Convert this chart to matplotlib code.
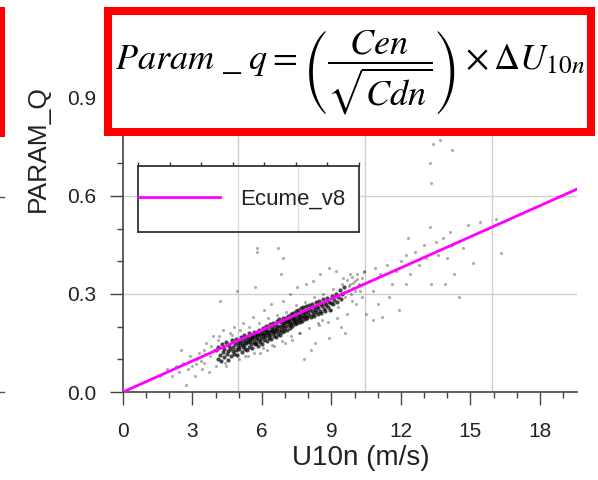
import numpy as np
import matplotlib
matplotlib.use('Agg')
from matplotlib import pyplot as plt
from matplotlib.patches import Rectangle
from matplotlib.lines import Line2D

plt.rcParams['font.family'] = ['Liberation Sans', 'DejaVu Sans']
plt.rcParams['mathtext.fontset'] = 'stix'

# dense cloud of (U10n, PARAM_Q) samples
core_pts = [
    (4.03, 0.128), (4.08, 0.101), (4.12, 0.137), (4.17, 0.112), (4.21, 0.094), (4.26, 0.146),
    (4.31, 0.121), (4.34, 0.108), (4.38, 0.133), (4.43, 0.152), (4.47, 0.117), (4.52, 0.126),
    (4.55, 0.098), (4.58, 0.141), (4.62, 0.131), (4.66, 0.109), (4.69, 0.158), (4.73, 0.124),
    (4.76, 0.137), (4.79, 0.116), (4.83, 0.146), (4.86, 0.129), (4.89, 0.163), (4.92, 0.112),
    (4.95, 0.138), (4.98, 0.151),
    (5.02, 0.131), (5.04, 0.156), (5.07, 0.144), (5.09, 0.168), (5.12, 0.123), (5.14, 0.149),
    (5.16, 0.139), (5.19, 0.162), (5.21, 0.176), (5.23, 0.145), (5.26, 0.133), (5.28, 0.157),
    (5.31, 0.168), (5.33, 0.149), (5.35, 0.128), (5.38, 0.161), (5.41, 0.152), (5.43, 0.181),
    (5.45, 0.139), (5.48, 0.166), (5.50, 0.156), (5.52, 0.147), (5.55, 0.172), (5.57, 0.161),
    (5.59, 0.135), (5.62, 0.168), (5.64, 0.154), (5.66, 0.185), (5.69, 0.146), (5.71, 0.173),
    (5.73, 0.162), (5.76, 0.151), (5.78, 0.179), (5.80, 0.167), (5.82, 0.141), (5.85, 0.175),
    (5.87, 0.159), (5.89, 0.189), (5.92, 0.152), (5.94, 0.178), (5.96, 0.166), (5.98, 0.147),
    (6.01, 0.184), (6.03, 0.171), (6.05, 0.195), (6.07, 0.158), (6.10, 0.178), (6.12, 0.190),
    (6.14, 0.167), (6.16, 0.202), (6.18, 0.181), (6.20, 0.156), (6.23, 0.187), (6.25, 0.174),
    (6.27, 0.198), (6.29, 0.165), (6.31, 0.183), (6.34, 0.207), (6.36, 0.176), (6.38, 0.191),
    (6.40, 0.163), (6.42, 0.186), (6.45, 0.199), (6.47, 0.180), (6.49, 0.212), (6.51, 0.172),
    (6.53, 0.193), (6.56, 0.184), (6.58, 0.205), (6.60, 0.168), (6.62, 0.189), (6.64, 0.216),
    (6.67, 0.196), (6.69, 0.178), (6.71, 0.201), (6.73, 0.187), (6.75, 0.222), (6.78, 0.176),
    (6.80, 0.203), (6.82, 0.192), (6.84, 0.214), (6.86, 0.183), (6.89, 0.206), (6.91, 0.227),
    (6.93, 0.195), (6.95, 0.211), (6.97, 0.186), (6.99, 0.218),
    (7.02, 0.202), (7.04, 0.225), (7.06, 0.213), (7.08, 0.191), (7.11, 0.218), (7.13, 0.233),
    (7.15, 0.205), (7.17, 0.222), (7.19, 0.196), (7.21, 0.214), (7.24, 0.239), (7.26, 0.209),
    (7.28, 0.226), (7.30, 0.201), (7.32, 0.219), (7.35, 0.243), (7.37, 0.213), (7.39, 0.231),
    (7.41, 0.207), (7.43, 0.224), (7.46, 0.248), (7.48, 0.217), (7.50, 0.235), (7.52, 0.211),
    (7.54, 0.228), (7.57, 0.252), (7.59, 0.221), (7.61, 0.239), (7.63, 0.214), (7.65, 0.233),
    (7.68, 0.256), (7.70, 0.226), (7.72, 0.244), (7.74, 0.218), (7.76, 0.237), (7.79, 0.259),
    (7.81, 0.229), (7.83, 0.247), (7.85, 0.222), (7.87, 0.241), (7.90, 0.262), (7.92, 0.232),
    (7.94, 0.251), (7.96, 0.226), (7.98, 0.244),
    (8.02, 0.266), (8.05, 0.236), (8.08, 0.255), (8.11, 0.229), (8.14, 0.248), (8.17, 0.270),
    (8.20, 0.240), (8.23, 0.259), (8.26, 0.234), (8.29, 0.252), (8.32, 0.275), (8.35, 0.245),
    (8.38, 0.263), (8.41, 0.239), (8.44, 0.257), (8.47, 0.279), (8.50, 0.249), (8.53, 0.268),
    (8.56, 0.243), (8.60, 0.262), (8.63, 0.284), (8.66, 0.254), (8.70, 0.272), (8.73, 0.248),
    (8.77, 0.266), (8.80, 0.289), (8.84, 0.259), (8.88, 0.277), (8.92, 0.252), (8.96, 0.271),
    (9.02, 0.294), (9.07, 0.268), (9.12, 0.283), (9.18, 0.301), (9.23, 0.276), (9.29, 0.292),
    (9.35, 0.312), (9.41, 0.284), (9.47, 0.301), (9.54, 0.322),
]

# sparse points away from the cloud
sparse_pts = [
    (1.6, 0.05), (1.9, 0.07), (2.1, 0.05), (2.3, 0.08), (2.4, 0.06), (2.5, 0.13),
    (2.6, 0.09), (2.7, 0.02), (2.8, 0.07), (2.9, 0.11), (3.0, 0.08), (3.1, 0.05),
    (3.2, 0.10), (3.3, 0.12), (3.4, 0.07), (3.5, 0.13), (3.5, 0.09), (3.6, 0.15),
    (3.7, 0.06), (3.8, 0.14), (3.9, 0.17), (4.0, 0.08), (4.1, 0.16), (4.2, 0.28),
    (4.3, 0.19), (4.4, 0.09), (4.6, 0.18), (4.8, 0.20), (4.9, 0.31), (5.0, 0.10),
    (5.2, 0.21), (5.4, 0.11), (5.6, 0.23), (5.7, 0.32), (5.8, 0.44), (5.8, 0.43),
    (5.9, 0.12), (6.1, 0.25), (6.2, 0.13), (6.4, 0.27), (6.5, 0.14), (6.7, 0.44),
    (6.8, 0.36), (6.9, 0.41), (6.9, 0.28), (7.0, 0.15), (7.2, 0.30), (7.3, 0.16),
    (7.5, 0.32), (7.6, 0.18), (7.8, 0.10), (7.9, 0.33), (8.1, 0.13), (8.2, 0.34),
    (8.4, 0.21), (8.5, 0.36), (8.6, 0.22), (8.9, 0.165), (8.9, 0.38), (9.0, 0.25),
    (9.2, 0.37), (9.3, 0.26), (9.5, 0.35), (9.6, 0.18), (9.8, 0.36), (9.9, 0.28),
    (10.0, 0.31), (10.2, 0.33), (10.3, 0.29), (10.4, 0.37), (10.5, 0.24), (10.6, 0.34),
    (10.8, 0.31), (10.9, 0.38), (11.1, 0.36), (11.2, 0.23), (11.4, 0.39), (11.6, 0.33),
    (11.8, 0.37), (11.9, 0.25), (12.0, 0.40), (12.2, 0.42), (12.3, 0.47), (12.4, 0.36),
    (12.6, 0.43), (12.8, 0.39), (13.0, 0.45), (13.1, 0.41), (13.25, 0.505), (13.3, 0.33),
    (13.5, 0.46), (13.6, 0.42), (13.8, 0.47), (14.0, 0.41), (14.1, 0.49), (14.2, 0.45),
    (14.3, 0.36), (14.5, 0.29), (14.7, 0.44), (14.9, 0.51), (15.1, 0.395), (15.4, 0.52),
    (15.7, 0.50), (16.1, 0.53), (16.3, 0.425), (13.25, 0.70), (13.3, 0.64), (13.4, 0.76),
    (13.7, 0.77), (14.2, 0.74), (10.8, 0.22), (11.0, 0.27), (9.4, 0.20), (8.3, 0.15),
    (12.2, 0.33), (13.9, 0.33), (11.5, 0.29),
    (4.15, 0.17), (4.45, 0.08), (4.7, 0.175), (5.05, 0.19), (5.25, 0.11), (5.45, 0.20),
    (5.65, 0.12), (5.85, 0.21), (6.05, 0.135), (6.25, 0.225), (6.45, 0.145), (6.65, 0.235),
    (6.85, 0.155), (7.05, 0.245), (7.25, 0.17), (7.45, 0.265), (7.65, 0.18), (7.85, 0.275),
    (8.05, 0.195), (8.25, 0.29), (8.45, 0.205), (8.65, 0.30), (8.85, 0.215), (9.05, 0.315),
    (9.25, 0.225), (9.45, 0.33), (9.65, 0.24), (9.85, 0.30), (10.05, 0.27), (10.25, 0.31),
    (3.95, 0.13), (3.75, 0.11), (3.55, 0.115), (3.35, 0.095), (3.15, 0.085),
    (9.60, 0.292), (9.67, 0.343), (9.73, 0.310), (9.80, 0.331), (9.88, 0.352), (9.95, 0.318),
    (10.03, 0.339), (10.12, 0.361), (10.20, 0.327), (10.31, 0.349), (10.42, 0.366),
    (9.58, 0.305), (9.75, 0.325), (9.92, 0.335), (10.10, 0.345), (10.35, 0.33),
]

# Ecume_v8 parametrisation line
fit_x = [0.0, 19.6]
fit_y = [0.0, 0.621]

xticks = [0, 3, 6, 9, 12, 15, 18]
yticks = [0.0, 0.3, 0.6, 0.9]
vgrid = [4.97, 10.45, 15.93]

core_x, core_y = np.array(core_pts).T
sp_x, sp_y = np.array(sparse_pts).T

fig = plt.figure(figsize=(5.98, 4.8), dpi=100)
ax = fig.add_axes([123/598, 88/480, 454/598, 1.05*326.7/480])

for xv in vgrid:
    ax.axvline(xv, color='#cfcfcf', lw=1, zorder=0)
for yv in yticks[1:]:
    ax.axhline(yv, color='#cfcfcf', lw=1, zorder=0)

ax.scatter(sp_x, sp_y, s=5, color='k', alpha=0.32, lw=0, zorder=1)
ax.scatter(core_x, core_y, s=9, color='k', alpha=0.72, lw=0, zorder=2)
line, = ax.plot(fit_x, fit_y, color='#ff00ff', lw=2, zorder=3, label='Ecume_v8')

ax.set_xlim(0, 19.6)
ax.set_ylim(0, 1.05)
ax.set_xticks(xticks)
ax.set_xticks(np.arange(0, 20, 1), minor=True)
ax.set_yticks(yticks)
ax.set_yticklabels(['%.1f' % v for v in yticks])
ax.set_yticks(np.arange(0, 1.05, 0.1), minor=True)
ax.tick_params(which='major', direction='out', length=9.5, width=1, color='#444',
               labelsize=15, pad=12, labelcolor='#222')
ax.tick_params(axis='y', which='major', pad=10)
ax.tick_params(which='minor', direction='out', length=4.5, width=1, color='#444')
for side in ['top', 'right']:
    ax.spines[side].set_visible(False)
for side in ['left', 'bottom']:
    ax.spines[side].set_color('#444')
    ax.spines[side].set_linewidth(1.2)

ax.set_xlabel('U10n (m/s)', fontsize=20, color='#222')
ax.xaxis.set_label_coords(0.524, -0.155)
ax.set_ylabel('PARAM_Q', fontsize=19, color='#222')
ax.yaxis.set_label_coords(-0.16, 0.711)

# legend box (drawn as its own little frame, like the original)
lax = fig.add_axes([138/598, 1 - 232/480, 221/598, 66/480])
lax.set_xlim(0, 7)
lax.set_ylim(0, 1)
lax.set_facecolor('white')
for xv in [3.17, 5.06]:
    lax.axvline(xv, color='#dddddd', lw=1)
lax.xaxis.tick_top()
lax.set_xticks(range(0, 8))
lax.set_xticklabels([])
lax.set_yticks([])
lax.tick_params(axis='x', direction='out', length=3, width=1, color='#333')
for sp in lax.spines.values():
    sp.set_color('#333')
    sp.set_linewidth(1.3)
lax.legend(handles=[line], loc='center left', frameon=False, fontsize=16,
           handlelength=3.7, handletextpad=0.9, borderaxespad=0, borderpad=0,
           labelcolor='#222')

# formula box on top
fig.patches.append(Rectangle((107.5/598, 1 - 132/480), (591 - 107.5)/598, 121/480,
                             transform=fig.transFigure, facecolor='white',
                             edgecolor='#ff0000', lw=5.8, zorder=10))
fig.text(350/598, 1 - 72/480,
         r'$Param\ \_\ q=\left(\dfrac{Cen}{\sqrt{Cdn}}\right)\times\Delta U_{10n}$',
         fontsize=26, ha='center', va='center', zorder=11)

# pieces of the neighbouring panel at the left edge
fig.patches.append(Rectangle((0, 1 - 137/480), 5/598, 130/480, transform=fig.transFigure,
                             facecolor='#ff0000', edgecolor='none', zorder=10))
for py in [197, 392]:
    fig.lines.append(Line2D([0, 4/598], [1 - py/480, 1 - py/480], transform=fig.transFigure,
                            color='#555', lw=1))

fig.savefig('out.png', dpi=100)
